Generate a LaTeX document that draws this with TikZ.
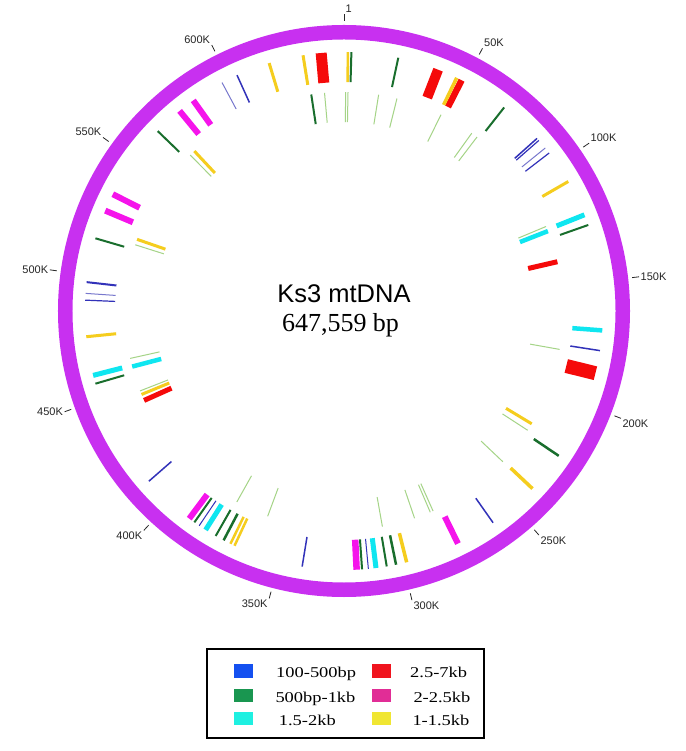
\documentclass[tikz,border=0pt]{standalone}
\usepackage{fontspec}
\setmainfont{Liberation Serif}
\newfontfamily\arialf{Liberation Sans}
\definecolor{ringc}{RGB}{200,48,240}
\definecolor{fred}{RGB}{245,10,10}
\definecolor{fyel}{RGB}{245,205,30}
\definecolor{fdg}{RGB}{25,110,45}
\definecolor{flg}{RGB}{165,212,135}
\definecolor{fblu}{RGB}{50,50,185}
\definecolor{fbll}{RGB}{120,120,205}
\definecolor{fcya}{RGB}{15,230,240}
\definecolor{fmag}{RGB}{245,20,235}
\definecolor{lgblue}{RGB}{20,80,240}
\definecolor{lggreen}{RGB}{25,150,80}
\definecolor{lgcyan}{RGB}{30,240,225}
\definecolor{lgred}{RGB}{240,20,30}
\definecolor{lgmag}{RGB}{225,45,150}
\definecolor{lgyel}{RGB}{240,230,50}
\newcommand\ofeat[3]{\draw[color=#1,line width=#2pt] ({90-(#3)}:229pt) -- ({90-(#3)}:259pt);}
\newcommand\ifeat[3]{\draw[color=#1,line width=#2pt] ({90-(#3)}:189pt) -- ({90-(#3)}:219pt);}
\tikzset{
  ticklab/.style={font=\arialf\fontsize{11}{13}\selectfont, inner sep=1.5pt, text=black!85},
  legtext/.style={anchor=base west, inner sep=0pt, font=\fontsize{15}{18}\selectfont}
}
\begin{document}
\begin{tikzpicture}[x=1pt,y=1pt]
\useasboundingbox (-344,-440) rectangle (341,311);
\fill[white] (-344,-440) rectangle (341,311);
% ring
\draw[ringc, line width=14.5pt] (0,0) circle[radius=278.75pt];
% ticks and labels
\foreach \k/\lab/\anc in {0/1/south west, 1/50K/south west, 2/100K/south west, 3/150K/west, 4/200K/north west, 5/250K/north west, 6/300K/north west, 7/350K/north east, 8/400K/north east, 9/450K/east, 10/500K/east, 11/550K/south east, 12/600K/south east} {
  \pgfmathsetmacro\a{90-\k*27.7967}
  \draw[line width=0.8pt, black!85] (\a:290pt) -- (\a:297pt);
  \node[ticklab, anchor=\anc] (tick\k) at (\a:297pt) {\lab};
}
% outer track
\ofeat{fyel}{3}{-16.8}
\ofeat{fyel}{3}{-9.1}
\ofeat{fred}{11}{-5.06}
\ofeat{fyel}{2.5}{0.88}
\ofeat{fdg}{2}{1.64}
\ofeat{fdg}{2}{12.1}
\ofeat{fred}{10}{21.3}
\ofeat{fred}{6.5}{27.0}
\ofeat{fyel}{3.5}{25.8}
\ofeat{fdg}{2}{38.2}
\ofeat{fblu}{1.5}{48.2}
\ofeat{fblu}{1.2}{48.8}
\ofeat{fbll}{1}{51.0}
\ofeat{fblu}{1.2}{52.4}
\ofeat{fyel}{3}{60.0}
\ofeat{fcya}{5}{68.2}
\ofeat{fdg}{2}{70.6}
\ofeat{fcya}{4.5}{94.3}
\ofeat{fblu}{1.5}{98.8}
\ofeat{fred}{14}{103.9}
\ofeat{fdg}{2.5}{124.0}
\ofeat{fyel}{3.5}{133.3}
\ofeat{fblu}{1.5}{144.85}
\ofeat{fmag}{6}{153.9}
\ofeat{fyel}{3.5}{166.0}
\ofeat{fdg}{2.5}{168.4}
\ofeat{fdg}{2}{170.5}
\ofeat{fcya}{5}{172.9}
\ofeat{fblu}{1}{174.6}
\ofeat{fdg}{2}{176.0}
\ofeat{fmag}{6.5}{177.2}
\ofeat{fblu}{1.5}{189.3}
\ofeat{fyel}{2.5}{205.0}
\ofeat{fyel}{2.5}{206.0}
\ofeat{fdg}{2.5}{207.7}
\ofeat{fdg}{2}{209.7}
\ofeat{fcya}{5}{212.3}
\ofeat{fblu}{1}{214.0}
\ofeat{fdg}{2}{215.3}
\ofeat{fmag}{6}{216.7}
\ofeat{fblu}{1.5}{228.9}
\ofeat{fdg}{2}{253.7}
\ofeat{fcya}{5}{255.6}
\ofeat{fyel}{3}{264.3}
\ofeat{fblu}{1.2}{272.4}
\ofeat{fbll}{1}{273.9}
\ofeat{fblu}{2}{276.4}
\ofeat{fdg}{2}{286.3}
\ofeat{fmag}{6}{292.8}
\ofeat{fmag}{6}{296.8}
\ofeat{fdg}{2}{314.0}
\ofeat{fmag}{6}{320.6}
\ofeat{fmag}{6}{324.4}
\ofeat{fbll}{1}{331.9}
\ofeat{fblu}{1.5}{335.6}
% inner track
\ifeat{fdg}{2}{-8.6}
\ifeat{flg}{1}{-5.1}
\ifeat{flg}{1}{0.42}
\ifeat{flg}{1}{1.05}
\ifeat{flg}{1}{9.1}
\ifeat{flg}{1}{14.0}
\ifeat{flg}{1}{26.3}
\ifeat{flg}{1}{35.7}
\ifeat{flg}{1}{37.4}
\ifeat{flg}{1}{67.3}
\ifeat{fcya}{4.5}{68.6}
\ifeat{fred}{5}{77.0}
\ifeat{flg}{1}{100.1}
\ifeat{fyel}{3}{121.0}
\ifeat{flg}{1}{123.0}
\ifeat{flg}{1}{133.5}
\ifeat{flg}{1}{156.0}
\ifeat{flg}{1}{156.8}
\ifeat{flg}{1}{161.2}
\ifeat{flg}{1}{169.9}
\ifeat{flg}{1}{200.4}
\ifeat{flg}{1}{209.3}
\ifeat{fred}{5}{245.9}
\ifeat{fyel}{3}{247.6}
\ifeat{flg}{1}{248.6}
\ifeat{fcya}{4.5}{255.3}
\ifeat{flg}{1}{257.5}
\ifeat{flg}{1}{287.6}
\ifeat{fyel}{3}{289.1}
\ifeat{flg}{1}{315.4}
\ifeat{fyel}{3}{316.9}
% centre text
\node[anchor=base, inner sep=0pt, font=\arialf\fontsize{25.5}{30}\selectfont] (title) at (0,8) {Ks3 mtDNA};
\node[anchor=base, inner sep=0pt, font=\fontsize{26}{30}\selectfont] (size) at (-3.5,-21) {647,559 bp};
% legend
\node[draw=black, line width=1.8pt, minimum width=277pt, minimum height=89pt, inner sep=0pt] (legend) at (1.5,-382.5) {};
\fill[lgblue] (-110,-353.3) rectangle (-91,-366.7);
\fill[lggreen] (-110,-378.3) rectangle (-91,-391.3);
\fill[lgcyan] (-110,-400.7) rectangle (-91,-414);
\fill[lgred] (28,-353.3) rectangle (47,-366.7);
\fill[lgmag] (28,-378.3) rectangle (47,-391.3);
\fill[lgyel] (28,-400.7) rectangle (47,-414);
\node[legtext] (l1) at (-68,-366.7) {\scalebox{1.23}[1]{100-500bp}};
\node[legtext] (l2) at (-68.7,-391) {\scalebox{1.23}[1]{500bp-1kb}};
\node[legtext] (l3) at (-65.3,-414) {\scalebox{1.23}[1]{1.5-2kb}};
\node[legtext] (l4) at (66,-366.7) {\scalebox{1.23}[1]{2.5-7kb}};
\node[legtext] (l5) at (69.3,-391) {\scalebox{1.23}[1]{2-2.5kb}};
\node[legtext] (l6) at (68.3,-414) {\scalebox{1.23}[1]{1-1.5kb}};
\end{tikzpicture}
\end{document}
